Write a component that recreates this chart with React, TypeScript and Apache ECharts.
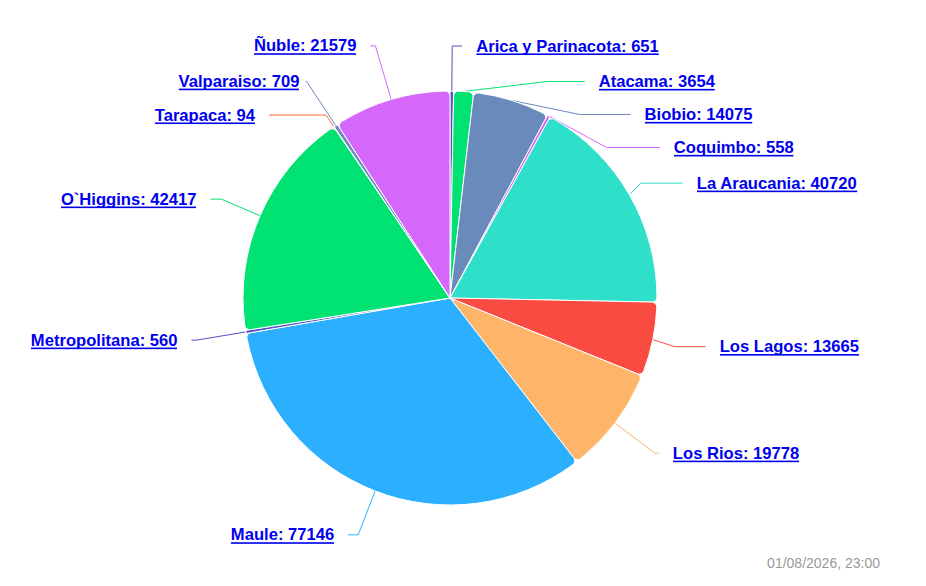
import React, { useEffect, useRef } from "react";
import * as echarts from "echarts";

const regions = [
  "Arica y Parinacota",
  "Atacama",
  "Biobio",
  "Coquimbo",
  "La Araucania",
  "Los Lagos",
  "Los Rios",
  "Maule",
  "Metropolitana",
  "O`Higgins",
  "Tarapaca",
  "Valparaiso",
  "Ñuble",
];
const values = [651, 3654, 14075, 558, 40720, 13665, 19778, 77146, 560, 42417, 94, 709, 21579];
const timestamp = "01/08/2026, 23:00";

// styling: slice colours and connector lengths per slice
const colors = [
  "#544fc5", "#00e272", "#6b8abc", "#d568fb", "#2ee0ca", "#fa4b42", "#feb56a",
  "#2caffe", "#544fc5", "#00e272", "#fe6a35", "#6b8abc", "#d568fb",
];
const lineLen = [45, 10, 2, 2, 23, 35, 50, 47, 50, 42, 14, 53, 56];
const lineLen2 = [10, 37, 51, 56, 42, 31, 4, 10, 5, 11, 57, 1, 5];
const labelGap = [14, 14, 14, 14, 14, 14, 14, 14, 14, 14, 14, 6, 14];

const underline =
  "data:image/svg+xml;charset=utf-8," +
  encodeURIComponent(
    "<svg xmlns='http://www.w3.org/2000/svg'><rect x='0' y='22.9' width='100%' height='1.6' fill='#0000ee'/></svg>"
  );

export default function App() {
  const ref = useRef<HTMLDivElement>(null);
  useEffect(() => {
    const chart = echarts.init(ref.current!, null, { renderer: "svg" });
    chart.setOption({
      animation: false,
      graphic: [
        {
          type: "text",
          right: 46,
          bottom: 16,
          style: {
            text: timestamp,
            fill: "#999999",
            font: "14px 'Liberation Sans', Arial, sans-serif",
          },
        },
      ],
      series: [
        {
          type: "pie",
          center: [450, 298],
          radius: 207,
          startAngle: 90,
          clockwise: true,
          avoidLabelOverlap: true,
          itemStyle: { borderColor: "#ffffff", borderWidth: 1, borderRadius: 5 },
          label: {
            show: true,
            formatter: "{b}: {c}",
            color: "#0000ee",
            fontFamily: "'Liberation Sans', Arial, sans-serif",
            fontWeight: "bold",
            fontSize: 16.6,
            lineHeight: 31,
            padding: 0,
            distanceToLabelLine: 14,
            backgroundColor: { image: underline },
          },
          labelLine: { show: true, length: 28, length2: 22, lineStyle: { width: 1 } },
          data: regions.map((name, i) => ({
            name,
            value: values[i],
            itemStyle: { color: colors[i] },
            label: { distanceToLabelLine: labelGap[i] },
            labelLine: { length: lineLen[i], length2: lineLen2[i] },
          })),
        },
      ],
    });
    return () => chart.dispose();
  }, []);
  return (
    <div
      ref={ref}
      style={{ position: "fixed", left: 0, top: 0, width: 926, height: 586, background: "#fff" }}
    />
  );
}
